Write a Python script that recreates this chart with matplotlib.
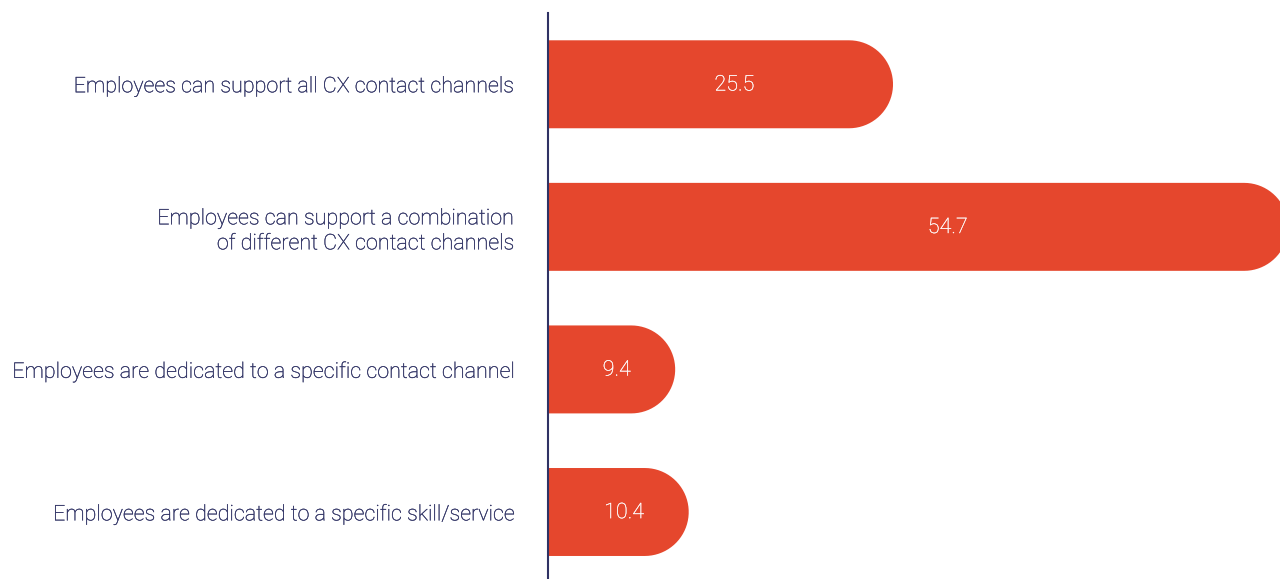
import numpy as np
import matplotlib as mpl
import matplotlib.pyplot as plt
import matplotlib.patheffects as pe
from matplotlib.path import Path
from matplotlib.patches import PathPatch

mpl.rcParams['font.family'] = ['Roboto', 'DejaVu Sans']

# %% Data
categories = ['Employees can support all CX contact channels',
              'Employees can support a combination\nof different CX contact channels',
              'Employees are dedicated to a specific contact channel',
              'Employees are dedicated to a specific skill/service']
values = [25.5, 54.7, 9.4, 10.4]

bar_color = '#e5472d'
text_color = '#2f3264'

# %% Plot
W, H = 12.8, 5.79
fig = plt.figure(figsize=(W, H), dpi=100)
ax = fig.add_axes([548/1280, 0, 1 - 548/1280, 1 - 13/579])
xmax = 54.1
ax.set_xlim(0, xmax)
ax.set_ylim(3.47, -0.5)

# data units per pixel, so the rounded cap stays circular
bbox = ax.get_position()
ux = xmax / (bbox.width * W * 100)
uy = 3.97 / (bbox.height * H * 100)

height = 0.617
for i, v in enumerate(values):
    ry = height / 2
    rx = ry / uy * ux
    t = np.linspace(np.pi/2, -np.pi/2, 40)
    xs = [0] + list(v - rx + rx*np.cos(t)) + [0]
    ys = [i - ry] + list(i - ry*np.sin(t)) + [i + ry]
    verts = list(zip(xs, ys)) + [(0, i - ry)]
    codes = [Path.MOVETO] + [Path.LINETO]*(len(verts) - 2) + [Path.CLOSEPOLY]
    ax.add_patch(PathPatch(Path(verts, codes), fc=bar_color, ec='none'))
    ax.text(v*0.54, i + 0.005, f'{v}', color='white', ha='center', va='center',
            fontsize=15.5, fontweight='light',
            path_effects=[pe.withStroke(linewidth=0.15, foreground='white')])

ax.set_yticks(range(len(categories)))
ax.set_yticklabels(categories, fontsize=15.5, fontweight='light', color=text_color,
                   linespacing=1.25)
for lab in ax.get_yticklabels():
    lab.set_path_effects([pe.withStroke(linewidth=0.2, foreground=text_color)])
ax.tick_params(axis='y', length=0, pad=25)
ax.set_xticks([])
for s in ['top', 'right', 'bottom']:
    ax.spines[s].set_visible(False)
ax.spines['left'].set_color(text_color)
ax.spines['left'].set_linewidth(1.5)

fig.savefig('out.png', dpi=100)
